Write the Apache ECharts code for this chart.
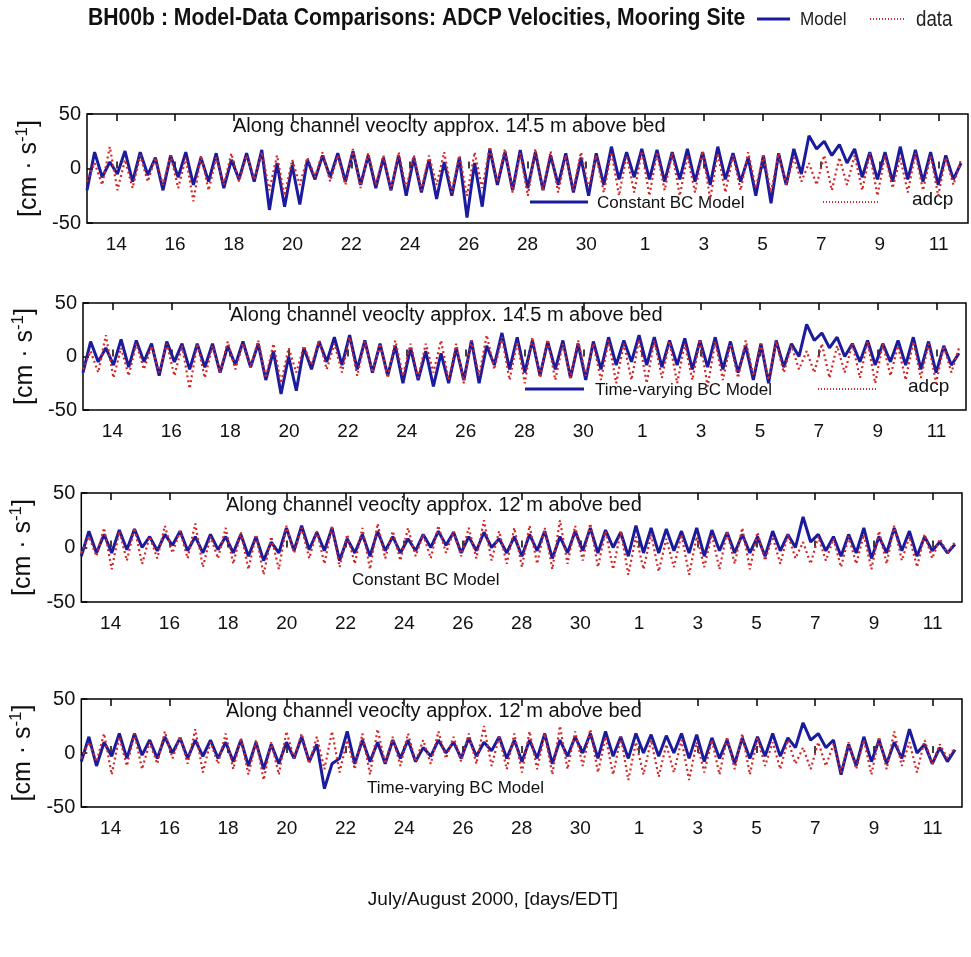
<!DOCTYPE html>
<html>
<head>
<meta charset="utf-8">
<script src="https://cdn.jsdelivr.net/npm/echarts@6/dist/echarts.min.js"></script>
<style>
  html, body { margin: 0; padding: 0; background: #fff; }
  #chart { width: 971px; height: 957px; }
</style>
</head>
<body>
<div id="chart"></div>
<script>
// Day numbers counted from 1 July 2000 (32 = 1 August). Samples every half M2 period.
const startDay = 13.0;
const halfTide = 0.2588;

// Tick positions and their calendar labels
const tickDays = [14, 16, 18, 20, 22, 24, 26, 28, 30, 32, 34, 36, 38, 40, 42];

// Panel 1: constant BC model, 14.5 m above bed
const modelConst145 = [
  -20, 15, -8, 6, -5, 16, -12, 15, -6, 10, -20, 12, -8, 15, -15, 10, -12, 14, -18, 8,
  -10, 14, -12, 17, -38, 5, -35, 3, -33, 8, -10, 12, -8, 14, -12, 16, -15, 12, -18, 10,
  -20, 12, -25, 10, -22, 8, -28, 6, -25, 10, -45, 5, -35, 18, -15, 15, -20, 17, -18, 15,
  -20, 12, -15, 14, -22, 10, -25, 14, -15, 20, -10, 15, -8, 18, -10, 17, -12, 15, -10, 18,
  -12, 15, -15, 20, -10, 14, -12, 10, -25, 12, -32, 14, -15, 18, -5, 30, 18, 25, 12, 22,
  5, 18, -8, 15, -10, 15, -12, 20, -10, 17, -12, 15, -15, 12, -10, 5
];

// Panel 2: time-varying BC model, 14.5 m above bed
const modelVary145 = [
  -15, 14, -5, 8, -8, 16, -10, 15, -5, 12, -18, 14, -5, 12, -12, 12, -10, 12, -15, 10,
  -8, 14, -10, 12, -22, 5, -35, 0, -32, 8, -12, 14, -5, 18, -8, 20, -12, 15, -15, 12,
  -18, 10, -25, 8, -22, 5, -28, 3, -25, 8, -22, 15, -25, 10, -8, 22, -12, 18, -15, 15,
  -18, 14, -12, 15, -20, 12, -22, 14, -12, 18, -8, 15, -5, 20, -8, 18, -10, 15, -8, 17,
  -12, 15, -10, 18, -12, 14, -15, 10, -22, 12, -25, 15, -10, 12, 0, 30, 15, 22, 8, 18,
  0, 12, -5, 15, -8, 12, -5, 15, -8, 18, -12, 14, -15, 10, -8, 3
];

// ADCP record, 14.5 m above bed (panels 1 and 2)
const adcp145 = [
  -12, 5, -15, 20, -20, 8, -18, 12, -12, 10, -15, 12, -18, 10, -30, 12, -20, 10, -15, 14,
  -12, 12, -10, 15, -20, 12, -25, 8, -15, 10, -8, 15, -12, 12, -15, 18, -18, 14, -15, 12,
  -20, 15, -18, 12, -20, 12, -15, 15, -22, 12, -25, 15, -18, 20, -12, 18, -22, 14, -25, 18,
  -20, 16, -22, 12, -20, 15, -18, 12, -22, 15, -25, 12, -22, 16, -25, 15, -20, 14, -25, 12,
  -22, 16, -28, 14, -22, 12, -20, 15, -18, 12, -22, 14, -15, 10, -12, 5, -15, 12, -20, 10,
  -15, 12, -20, 14, -25, 12, -18, 10, -22, 14, -20, 12, -25, 10, -15, 8
];

// Panel 3: constant BC model, 12 m above bed
const modelConst12 = [
  -8, 15, -5, 12, -5, 16, -2, 17, 0, 10, -3, 12, 2, 15, -3, 10, -5, 12, -2, 10,
  -5, 12, -8, 10, -12, 5, -5, 18, -3, 20, -2, 14, -3, 18, -12, 8, -5, 12, -8, 15,
  -3, 10, -5, 8, -3, 12, 0, 15, 2, 14, -5, 10, -3, 14, 0, 8, -5, 10, -8, 12,
  -3, 15, -10, 10, -5, 15, -3, 18, -5, 16, 0, 14, -8, 20, -5, 18, -5, 17, -3, 15,
  -5, 18, -8, 16, -3, 14, -5, 12, -5, 10, -8, 15, -3, 12, 0, 28, 5, 12, -3, 10,
  -8, 12, -5, 18, -10, 10, -5, 18, -3, 15, -8, 10, -3, 5, -5, 3
];

// Panel 4: time-varying BC model, 12 m above bed
const modelVary12 = [
  -8, 15, -12, 10, -3, 18, -5, 18, -2, 12, -5, 15, 0, 14, -5, 12, -3, 12, -5, 10,
  -8, 12, -12, 10, -15, 8, -10, 10, -5, 15, -8, 8, -33, -10, -5, 20, -10, 12, -8, 10,
  -10, 12, -5, 12, -8, 5, -3, 12, 0, 10, -5, 14, -3, 10, 2, 15, -5, 12, -8, 12,
  -5, 18, -10, 12, -3, 15, 0, 18, -5, 20, -3, 15, -5, 18, 0, 17, -3, 16, 0, 18,
  -5, 17, -8, 14, -5, 12, -10, 14, -5, 15, -3, 18, -3, 14, 5, 28, 12, 18, 5, 12,
  -20, 8, -12, 15, -8, 12, -10, 10, -5, 22, 0, 8, -10, 5, -8, 3
];

// ADCP record, 12 m above bed (panels 3 and 4)
const adcp12 = [
  -5, 10, -8, 18, -20, 15, -12, 18, -15, 10, -10, 20, -5, 15, -10, 22, -18, 10, -10, 18,
  -15, 14, -20, 12, -25, 10, -20, 20, -5, 18, -10, 15, -15, 20, -18, 12, -15, 18, -20, 22,
  -10, 15, -12, 18, -8, 12, -10, 20, -5, 15, -8, 18, -10, 25, -12, 15, -15, 18, -18, 20,
  -15, 18, -20, 25, -15, 20, -12, 22, -18, 15, -20, 15, -25, 10, -20, 12, -22, 8, -18, 12,
  -25, 10, -18, 12, -20, 15, -15, 18, -20, 14, -12, 10, -15, 12, -10, 5, -15, 10, -12, 8,
  -18, 10, -15, 12, -20, 15, -15, 20, -12, 10, -18, 12, -10, 8, -5, 5
];

const panelTitles = [
  'Along channel veocity approx. 14.5 m above bed',
  'Along channel veocity approx. 14.5 m above bed',
  'Along channel veocity approx. 12 m above bed',
  'Along channel veocity approx. 12 m above bed'
];
const modelNames = ['Constant BC Model', 'Time-varying BC Model', 'Constant BC Model', 'Time-varying BC Model'];

const modelSets = [modelConst145, modelVary145, modelConst12, modelVary12];
const dataSets = [adcp145, adcp145, adcp12, adcp12];

const FONT = '"Liberation Sans", Arial, sans-serif';
const MODEL_COLOR = '#1b1b9e';
const DATA_COLOR = '#d42626';

// Plot-box layout of the four panels
const boxes = [
  { left: 87, right: 3, top: 114, height: 109 },
  { left: 83, right: 5, top: 303, height: 107 },
  { left: 78, right: 9, top: 493, height: 109 },
  { left: 78, right: 9, top: 699, height: 108 }
];

function pairs(values) {
  return values.map((v, i) => [startDay + i * halfTide, v]);
}

const dayLabel = v => String(v > 31 ? v - 31 : v);

const grid = [], xAxis = [], yAxis = [], series = [];
boxes.forEach((b, k) => {
  grid.push({
    left: b.left, right: b.right, top: b.top, height: b.height,
    show: true, borderColor: '#000', borderWidth: 1.5, backgroundColor: '#fff'
  });
  xAxis.push({
    type: 'value', gridIndex: k, min: 13, max: 43, position: 'bottom',
    axisLine: { show: false },
    splitLine: { show: false },
    axisTick: { show: true, inside: true, length: 7, customValues: tickDays, lineStyle: { color: '#000', width: 1.5 } },
    axisLabel: { customValues: tickDays, formatter: dayLabel, margin: 12, fontSize: 19, color: '#111', fontFamily: FONT }
  });
  xAxis.push({
    type: 'value', gridIndex: k, min: 13, max: 43, position: 'top',
    axisLine: { show: false },
    splitLine: { show: false },
    axisTick: { show: true, inside: true, length: 7, customValues: tickDays, lineStyle: { color: '#000', width: 1.5 } },
    axisLabel: { show: false }
  });
  yAxis.push({
    type: 'value', gridIndex: k, min: -50, max: 50, interval: 50,
    axisLine: { show: false },
    splitLine: { show: false },
    axisTick: { show: true, inside: true, length: 6, lineStyle: { color: '#000', width: 1.5 } },
    axisLabel: { margin: 6, fontSize: 20, color: '#111', fontFamily: FONT },
    name: '{a|[cm · s}{b|-1}{a|]}',
    nameLocation: 'middle', nameRotate: 90, nameGap: 37,
    nameTextStyle: {
      rich: {
        a: { fontSize: 25, fontFamily: FONT, color: '#111', lineHeight: 30 },
        b: { fontSize: 17, fontFamily: FONT, color: '#111', verticalAlign: 'top' }
      }
    }
  });
  series.push({
    name: 'Model', type: 'line', xAxisIndex: 2 * k, yAxisIndex: k,
    data: pairs(modelSets[k]), showSymbol: false, symbol: 'none',
    lineStyle: { color: MODEL_COLOR, width: 3 }, z: 2, animation: false
  });
  series.push({
    name: 'data', type: 'line', xAxisIndex: 2 * k, yAxisIndex: k,
    data: pairs(dataSets[k]), showSymbol: false, symbol: 'none',
    lineStyle: { color: DATA_COLOR, width: 2.2, type: [2, 3] }, z: 3, animation: false
  });
});

const graphic = [];
// Header: title in a condensed bold face, followed by the line-style key
graphic.push(
  {
    type: 'text', x: 88, y: 19, scaleX: 0.92,
    style: { text: 'BH00b : Model-Data Comparisons: ADCP Velocities, Mooring Site', font: 'bold 23px ' + FONT, fill: '#111', verticalAlign: 'middle' }
  },
  { type: 'line', shape: { x1: 757, y1: 19, x2: 790, y2: 19 }, style: { stroke: MODEL_COLOR, lineWidth: 3 } },
  { type: 'text', x: 800, y: 20, scaleX: 0.9, style: { text: 'Model', font: '19px ' + FONT, fill: '#222', verticalAlign: 'middle' } },
  { type: 'line', shape: { x1: 870, y1: 19, x2: 905, y2: 19 }, style: { stroke: DATA_COLOR, lineWidth: 2, lineDash: [1, 2] } },
  { type: 'text', x: 916, y: 20, scaleX: 0.85, style: { text: 'data', font: '22px ' + FONT, fill: '#222', verticalAlign: 'middle' } }
);
// Panel annotations
const titleX = [233, 230, 226, 226];
boxes.forEach((b, k) => {
  graphic.push({
    type: 'text', x: titleX[k], y: b.top + 2, z: 1,
    style: { text: panelTitles[k], font: '20px ' + FONT, fill: '#111', verticalAlign: 'top' }
  });
});
// Legends inside panels 1 and 2
[[0, 530, 588, 597, 823, 880, 912], [1, 525, 584, 595, 818, 877, 908]].forEach(([k, l1, l2, tx, d1, d2, ax]) => {
  const yy = boxes[k].top + boxes[k].height - 21;
  graphic.push(
    { type: 'line', shape: { x1: l1, y1: yy, x2: l2, y2: yy }, style: { stroke: MODEL_COLOR, lineWidth: 3 } },
    { type: 'text', x: tx, y: yy + 1, style: { text: modelNames[k], font: '17px ' + FONT, fill: '#111', verticalAlign: 'middle' } },
    { type: 'line', shape: { x1: d1, y1: yy, x2: d2, y2: yy }, style: { stroke: DATA_COLOR, lineWidth: 2, lineDash: [1, 2] } },
    { type: 'text', x: ax, y: yy - 2, style: { text: 'adcp', font: '19px ' + FONT, fill: '#111', verticalAlign: 'middle' } }
  );
});
// Model labels in panels 3 and 4
graphic.push(
  { type: 'text', x: 352, y: 580, style: { text: modelNames[2], font: '17px ' + FONT, fill: '#111', verticalAlign: 'middle' } },
  { type: 'text', x: 367, y: 788, style: { text: modelNames[3], font: '17px ' + FONT, fill: '#111', verticalAlign: 'middle' } }
);
// Shared time axis caption
graphic.push({
  type: 'text', x: 493, y: 900,
  style: { text: 'July/August 2000, [days/EDT]', font: '19px ' + FONT, fill: '#111', align: 'center', verticalAlign: 'middle' }
});

const chart = echarts.init(document.getElementById('chart'), null, { renderer: 'canvas' });
chart.setOption({
  animation: false,
  backgroundColor: '#fff',
  grid, xAxis, yAxis, series, graphic
});
</script>
</body>
</html>
